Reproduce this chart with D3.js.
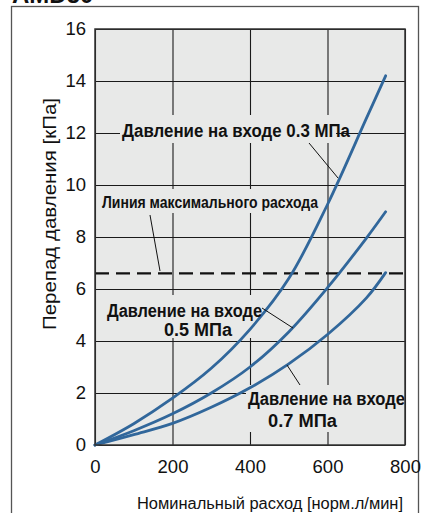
<!DOCTYPE html>
<html>
<head>
<meta charset="utf-8">
<script src="https://cdn.jsdelivr.net/npm/d3@7"></script>
<style>
  html, body { margin: 0; padding: 0; background: #ffffff; }
  svg { display: block; }
</style>
</head>
<body>
<svg id="chart" width="425" height="513"></svg>
<script>
// Flow rate (normal L/min) and pressure drop (kPa) for three inlet pressures
const flow = [0, 100, 200, 300, 400, 500, 600, 700, 750];
const drop03 = [0, 0.82, 1.8, 2.95, 4.45, 6.4, 9.25, 12.55, 14.2];
const drop05 = [0, 0.55, 1.2, 2.0, 3.0, 4.35, 6.05, 7.95, 8.97];
const drop07 = [0, 0.4, 0.83, 1.45, 2.2, 3.12, 4.25, 5.65, 6.63];
const maxFlowLine = 6.6;

const xTicks = [0, 200, 400, 600, 800];
const yTicks = [0, 2, 4, 6, 8, 10, 12, 14, 16];

const xTitle = "Номинальный расход [норм.л/мин]";
const yTitle = "Перепад давления [кПа]";
const heading = "AMD50";

const svg = d3.select("#chart");
const plotL = 95, plotR = 405, plotT = 29, plotB = 445;
const w = plotR - plotL, h = plotB - plotT;

const x = d3.scaleLinear().domain([0, 800]).range([plotL, plotR]);
const y = d3.scaleLinear().domain([0, 16]).range([plotB, plotT]);

const sans = "'Liberation Sans', Arial, Helvetica, sans-serif";
const narrow = "'Liberation Sans Narrow', 'Liberation Sans', Arial, sans-serif";

// Page heading, clipped by the top edge
svg.append("text").attr("x", 12).attr("y", 3)
  .attr("font-family", sans).attr("font-weight", "bold").attr("font-size", 24)
  .attr("fill", "#111").text(heading);

// Outer frame
svg.append("rect").attr("x", 11.5).attr("y", 6.5).attr("width", 407).attr("height", 530)
  .attr("fill", "none").attr("stroke", "#555").attr("stroke-width", 1.3);

// Plot background
svg.append("rect").attr("x", plotL).attr("y", plotT).attr("width", w).attr("height", h)
  .attr("fill", "#e8e9e8");

// Grid lines
const gx = svg.append("g").attr("transform", `translate(0,${plotB})`)
  .call(d3.axisBottom(x).tickValues(xTicks).tickSize(-h).tickFormat(""));
const gy = svg.append("g").attr("transform", `translate(${plotL},0)`)
  .call(d3.axisLeft(y).tickValues(yTicks).tickSize(-w).tickFormat(""));
[gx, gy].forEach(g => {
  g.select(".domain").remove();
  g.selectAll(".tick line").attr("stroke", "#1a1a1a").attr("stroke-width", 1.1);
});

// Label backgrounds that mask the grid
const masks = [
  [120, 115, 216, 28],
  [100, 189, 222, 24],
  [105, 295, 157, 43],
  [246, 385, 159, 47]
];
svg.append("g").selectAll("rect").data(masks).join("rect")
  .attr("x", d => d[0]).attr("y", d => d[1]).attr("width", d => d[2]).attr("height", d => d[3])
  .attr("fill", "#e8e9e8");

// Maximum flow line
svg.append("line")
  .attr("x1", x(0)).attr("x2", x(800)).attr("y1", y(maxFlowLine)).attr("y2", y(maxFlowLine))
  .attr("stroke", "#111").attr("stroke-width", 2.4).attr("stroke-dasharray", "14,7");

// Pressure-drop curves
const line = d3.line().x(d => x(d[0])).y(d => y(d[1])).curve(d3.curveCatmullRom.alpha(0.5));
[drop03, drop05, drop07].forEach(series => {
  svg.append("path").datum(flow.map((f, i) => [f, series[i]]))
    .attr("d", line).attr("fill", "none")
    .attr("stroke", "#31679b").attr("stroke-width", 2.8).attr("stroke-linecap", "round");
});

// Leader lines
const leaders = [
  [309, 143, 338, 178],
  [150, 215, 160, 271],
  [262, 308, 293, 328],
  [287, 365, 300, 385]
];
svg.append("g").selectAll("line").data(leaders).join("line")
  .attr("x1", d => d[0]).attr("y1", d => d[1]).attr("x2", d => d[2]).attr("y2", d => d[3])
  .attr("stroke", "#111").attr("stroke-width", 1);

// Annotations
const notes = [
  { t: "Давление на входе 0.3 МПа", x: 122, y: 137, len: 228, fs: 18 },
  { t: "Линия максимального расхода", x: 102, y: 208, len: 216, fs: 16.5 },
  { t: "Давление на входе", x: 107, y: 317, len: 155, fs: 18 },
  { t: "0.5 МПа", x: 164, y: 336, len: 68, fs: 18 },
  { t: "Давление на входе", x: 248, y: 405, len: 157, fs: 18 },
  { t: "0.7 МПа", x: 268, y: 427, len: 69, fs: 18 }
];
svg.append("g").selectAll("text").data(notes).join("text")
  .attr("x", d => d.x).attr("y", d => d.y)
  .attr("font-family", narrow).attr("font-weight", "bold").attr("font-size", d => d.fs)
  .attr("textLength", d => d.len).attr("lengthAdjust", "spacingAndGlyphs")
  .attr("fill", "#111").text(d => d.t);

// Plot border
svg.append("rect").attr("x", plotL).attr("y", plotT).attr("width", w).attr("height", h)
  .attr("fill", "none").attr("stroke", "#333").attr("stroke-width", 1.5);

// Axis tick labels
const ax = svg.append("g").attr("transform", `translate(0,${plotB})`)
  .call(d3.axisBottom(x).tickValues(xTicks).tickSize(0).tickPadding(15).tickFormat(d3.format("d")));
const ay = svg.append("g").attr("transform", `translate(${plotL},0)`)
  .call(d3.axisLeft(y).tickValues(yTicks).tickSize(0).tickPadding(9).tickFormat(d3.format("d")));
[ax, ay].forEach(g => {
  g.select(".domain").remove();
  g.selectAll("text").attr("font-family", sans).attr("font-size", 18.5).attr("fill", "#111");
});

// Axis titles
svg.append("text").attr("x", 137).attr("y", 509)
  .attr("font-family", sans).attr("font-size", 16)
  .attr("textLength", 266).attr("lengthAdjust", "spacingAndGlyphs")
  .attr("fill", "#111").text(xTitle);
svg.append("text").attr("transform", "translate(56,330) rotate(-90)")
  .attr("font-family", sans).attr("font-size", 17.5)
  .attr("textLength", 232).attr("lengthAdjust", "spacingAndGlyphs")
  .attr("fill", "#111").text(yTitle);
</script>
</body>
</html>
